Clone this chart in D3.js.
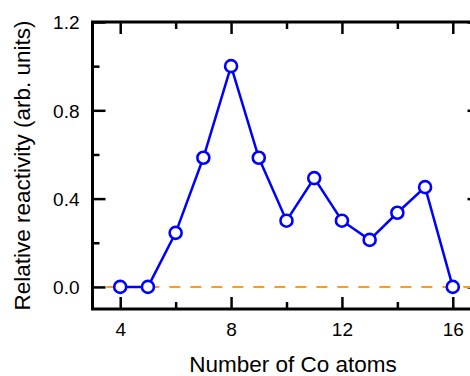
<!DOCTYPE html>
<html>
<head>
<meta charset="utf-8">
<script src="https://cdn.jsdelivr.net/npm/d3@7"></script>
<style>
html,body{margin:0;padding:0;background:#fff;}
svg{display:block;font-family:"Liberation Sans",Arial,Helvetica,sans-serif;}
</style>
</head>
<body>
<svg id="chart" width="470" height="376"></svg>
<script>
const atoms = [4, 5, 6, 7, 8, 9, 10, 11, 12, 13, 14, 15, 16];
const reactivity = [0, 0, 0.245, 0.585, 1.0, 0.585, 0.30, 0.493, 0.30, 0.213, 0.336, 0.452, 0];
const xMajorTicks = [4, 8, 12, 16];
const xMinorTicks = [6, 10, 14];
const yMajorTicks = [0, 0.4, 0.8, 1.2];
const yMinorTicks = [0.2, 0.6, 1.0];
const baselineX = [3.5, 17];
const baselineY = [0, 0];

const svg = d3.select("#chart");
const x = d3.scaleLinear().domain([3, 17]).range([92.5, 480.5]);
const y = d3.scaleLinear().domain([-0.1, 1.2]).range([309, 22]);
const L = x.range()[0], R = x.range()[1], T = y.range()[1], B = y.range()[0];

function addAxis(gen, tr) {
  const g = svg.append("g").attr("transform", tr).call(gen);
  g.select(".domain").remove();
  g.selectAll(".tick line").attr("stroke", "#000").attr("stroke-width", 2.5);
  return g;
}
const fmt = d3.format(".1f");
// bottom
const bx = addAxis(d3.axisBottom(x).tickValues(xMajorTicks).tickSize(-12).tickPadding(10).tickFormat(d3.format("d")), `translate(0,${B})`);
bx.selectAll("text").attr("font-size", 19).attr("fill", "#000").attr("dy", "0.9em");
addAxis(d3.axisBottom(x).tickValues(xMinorTicks).tickSize(-7).tickFormat(""), `translate(0,${B})`);
// top
addAxis(d3.axisTop(x).tickValues(xMajorTicks).tickSize(-12).tickFormat(""), `translate(0,${T})`);
addAxis(d3.axisTop(x).tickValues(xMinorTicks).tickSize(-7).tickFormat(""), `translate(0,${T})`);
// left
const ly = addAxis(d3.axisLeft(y).tickValues(yMajorTicks).tickSize(-13).tickPadding(13).tickFormat(fmt), `translate(${L},0)`);
ly.selectAll("text").attr("font-size", 19).attr("fill", "#000").attr("dy", "0.36em");
addAxis(d3.axisLeft(y).tickValues(yMinorTicks).tickSize(-7).tickFormat(""), `translate(${L},0)`);
// right
addAxis(d3.axisRight(y).tickValues(yMajorTicks).tickSize(-13).tickFormat(""), `translate(${R},0)`);
addAxis(d3.axisRight(y).tickValues(yMinorTicks).tickSize(-7).tickFormat(""), `translate(${R},0)`);

// frame
svg.append("rect").attr("x", L).attr("y", T).attr("width", R - L).attr("height", B - T)
  .attr("fill", "none").attr("stroke", "#000").attr("stroke-width", 3);

// dashed zero line
svg.append("line")
  .attr("x1", x(baselineX[0])).attr("x2", x(baselineX[1]))
  .attr("y1", y(baselineY[0])).attr("y2", y(baselineY[1]))
  .attr("stroke", "#ff9a1f").attr("stroke-width", 2).attr("stroke-dasharray", "11,10");

const data = atoms.map((a, i) => ({x: a, y: reactivity[i]}));
svg.append("path").datum(data)
  .attr("fill", "none").attr("stroke", "#0000ff").attr("stroke-width", 2.5)
  .attr("d", d3.line().x(d => x(d.x)).y(d => y(d.y)));
svg.append("g").selectAll("circle").data(data).join("circle")
  .attr("cx", d => x(d.x)).attr("cy", d => y(d.y)).attr("r", 6)
  .attr("fill", "#fff").attr("stroke", "#0000ff").attr("stroke-width", 2.6);

// titles
svg.append("text").attr("x", 293).attr("y", 372).attr("text-anchor", "middle")
  .attr("font-size", 22.5).attr("fill", "#000").text("Number of Co atoms");
svg.append("text").attr("transform", `translate(30,${(T + B) / 2}) rotate(-90)`)
  .attr("text-anchor", "middle").attr("font-size", 22.5).attr("fill", "#000")
  .text("Relative reactivity (arb. units)");
</script>
</body>
</html>
